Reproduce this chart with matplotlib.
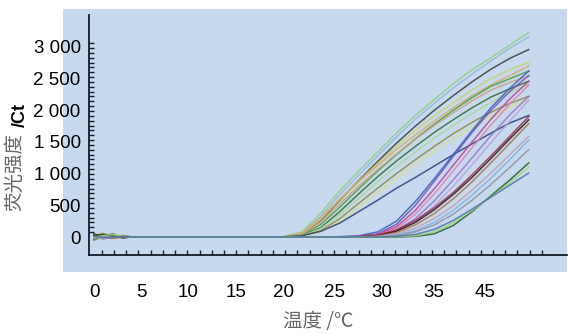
import numpy as np
import matplotlib
matplotlib.use("Agg")
import matplotlib.pyplot as plt
from matplotlib.patches import Rectangle

# ---------------- data ----------------
x = [0, 1, 2, 3, 4, 18, 20, 22, 24, 26, 28, 30, 32, 34, 36, 38, 40, 42, 44, 46]

# early-amplifying group (wiggle at start, flat baseline, then rise)
early_curves = [
    [20, -30, 40, 10, 0, 0, 5, 80, 380, 730, 1040, 1340, 1640, 1920, 2170, 2420, 2640, 2830, 3030, 3230],
    [-40, 20, -10, 30, 0, 0, 3, 60, 330, 670, 980, 1280, 1580, 1860, 2110, 2350, 2570, 2780, 2980, 3160],
    [50, 0, 30, -10, 0, 0, 0, 40, 260, 580, 890, 1190, 1480, 1750, 2000, 2230, 2450, 2650, 2820, 2960],
    [-20, 40, 20, 0, 0, 0, 0, 50, 280, 590, 880, 1160, 1430, 1680, 1910, 2120, 2320, 2500, 2640, 2760],
    [30, 60, -20, 20, 0, 0, 0, 60, 300, 600, 870, 1130, 1380, 1610, 1830, 2040, 2230, 2400, 2550, 2700],
    [-50, 10, 40, 10, 0, 0, 0, 30, 200, 470, 760, 1040, 1300, 1550, 1780, 2000, 2200, 2380, 2500, 2620],
    [10, -40, 30, 20, 0, 0, 0, 40, 240, 520, 800, 1060, 1310, 1540, 1760, 1960, 2150, 2320, 2440, 2540],
    [40, 20, 50, -10, 0, 0, 0, 20, 150, 400, 680, 950, 1200, 1430, 1650, 1850, 2040, 2210, 2340, 2460],
    [-30, -10, 20, 30, 0, 0, 0, 20, 130, 350, 610, 870, 1110, 1340, 1560, 1760, 1950, 2120, 2280, 2410],
    [20, 50, 10, 0, 0, 0, 0, 15, 100, 290, 530, 770, 1000, 1220, 1430, 1630, 1810, 1970, 2110, 2220],
    [-10, 30, -30, 20, 0, 0, 0, 10, 80, 240, 460, 690, 920, 1140, 1350, 1550, 1730, 1900, 2050, 2170],
    [0, 20, 10, 10, 0, 0, 0, 20, 90, 220, 400, 580, 770, 940, 1120, 1300, 1470, 1640, 1800, 1920],
]
early_colors = ["#8fd17a", "#8fb8d8", "#3a3a3a", "#c8d46a", "#d9a86a", "#4a9a3a",
                "#c9a27a", "#2f6b2a", "#a8d890", "#8a8a3a", "#d8e08a", "#2b3f7a"]

# late-amplifying group
late_curves = [
    [10, -20, 30, 0, 0, 0, 0, 0, 0, 0, 10, 50, 200, 500, 880, 1270, 1650, 2000, 2300, 2550],
    [-20, 30, 10, 20, 0, 0, 0, 0, 0, 5, 20, 80, 250, 560, 920, 1300, 1680, 2040, 2350, 2620],
    [30, -10, -20, 10, 0, 0, 0, 0, 0, 0, 10, 40, 160, 420, 760, 1130, 1500, 1860, 2180, 2460],
    [-10, 10, 40, 0, 0, 0, 0, 0, 0, 0, 5, 30, 130, 360, 680, 1040, 1410, 1770, 2100, 2400],
    [20, 40, 0, -10, 0, 0, 0, 0, 0, 0, 0, 20, 100, 290, 570, 900, 1250, 1600, 1930, 2220],
    [0, -30, 20, 10, 0, 0, 0, 0, 0, 0, 0, 15, 80, 240, 490, 800, 1140, 1490, 1830, 2160],
    [40, 10, -10, 20, 0, 0, 0, 0, 0, 0, 5, 30, 110, 260, 460, 700, 980, 1280, 1590, 1900],
    [-30, 20, 30, -10, 0, 0, 0, 0, 0, 0, 0, 20, 90, 230, 430, 670, 940, 1240, 1550, 1850],
    [10, 30, -20, 0, 0, 0, 0, 0, 0, 0, 0, 15, 70, 190, 370, 600, 870, 1170, 1480, 1790],
    [-20, 0, 20, 20, 0, 0, 0, 0, 0, 0, 0, 10, 50, 140, 290, 490, 740, 1010, 1300, 1590],
    [20, -20, 10, 0, 0, 0, 0, 0, 0, 0, 0, 5, 30, 100, 230, 420, 660, 930, 1220, 1530],
    [0, 10, -10, 10, 0, 0, 0, 0, 0, 0, 0, 0, 20, 80, 190, 360, 580, 830, 1100, 1380],
    [30, 40, 20, 0, 0, 0, 0, 0, 0, 0, 0, 0, 0, 10, 50, 180, 400, 650, 900, 1170],
    [-10, 20, 40, 10, 0, 0, 0, 0, 0, 0, 0, 0, 5, 20, 80, 220, 420, 630, 860, 1100],
    [10, -10, 0, 10, 0, 0, 0, 0, 0, 0, 0, 0, 10, 40, 120, 260, 440, 630, 820, 1010],
]
late_colors = ["#7a4fb0", "#3a5fc0", "#c0409a", "#e080b0", "#9a70d0", "#b8a0e0",
               "#b02040", "#202020", "#b07040", "#c0a0b0", "#80b0e0", "#9090a0",
               "#1f5a2a", "#a0d870", "#4a70b0"]

xtick_pos = [0, 5, 10, 15, 20, 25.5, 30.5, 36, 41.4]
xtick_labels = ["0", "5", "10", "15", "20", "25", "30", "35", "45"]
ytick_pos = [0, 500, 1000, 1500, 2000, 2500, 3000]
ytick_labels = ["0", "500", "1 000", "1 500", "2 000", "2 500", "3 000"]

# ---------------- figure ----------------
W, H = 568, 333
fig = plt.figure(figsize=(W / 100, H / 100), dpi=100)
fig.patch.set_facecolor("white")

bg = Rectangle((63 / W, (H - 272) / H), (567 - 63) / W, (272 - 9) / H,
               transform=fig.transFigure, facecolor="#c6d9ef", edgecolor="none", zorder=-10)
fig.patches.append(bg)

ax = fig.add_axes([89 / W, (H - 255) / H, (567 - 89) / W, (255 - 15) / H])
ax.set_facecolor("none")
ax.set_zorder(1)

for ys, c in zip(early_curves, early_colors):
    ax.plot(x, ys, color=c, lw=1.1, alpha=0.85, solid_joinstyle="round")
for ys, c in zip(late_curves, late_colors):
    ax.plot(x, ys, color=c, lw=1.1, alpha=0.85, solid_joinstyle="round")

ax.set_xlim(-0.53, 50.05)
ax.set_ylim(-284, 3505)

spine_c = "#141a2c"
for s in ["top", "right"]:
    ax.spines[s].set_visible(False)
for s in ["left", "bottom"]:
    ax.spines[s].set_color(spine_c)
    ax.spines[s].set_linewidth(1.3)

ax.set_xticks(xtick_pos)
ax.set_xticklabels(xtick_labels)
ax.set_yticks(ytick_pos)
ax.set_yticklabels(ytick_labels)
ax.set_xticks(np.arange(0.815, 47.6, 1.294), minor=True)
ax.set_yticks(np.linspace(0, 3060, 41), minor=True)

ax.tick_params(axis="both", which="major", length=0, labelsize=13.5, colors="black")
ax.tick_params(axis="x", which="major", pad=21)
ax.tick_params(axis="y", which="major", pad=6)
ax.tick_params(axis="both", which="minor", direction="in", length=3.6, width=1.0, color=spine_c)
for lab in ax.get_xticklabels() + ax.get_yticklabels():
    lab.set_fontfamily("Liberation Sans")

cjk = ["Noto Sans CJK SC", "DejaVu Sans"]
fig.text(15 / W, 1 - 172 / H, "荧光强度", rotation=90, ha="center", va="center",
         fontsize=14, color="#666666", family=cjk, fontweight="light")
fig.text(20 / W, 1 - 115 / H, "/Ct", rotation=90, ha="center", va="center",
         fontsize=13, color="black", family="Liberation Sans", fontweight="bold")
fig.text(318 / W, 1 - 322 / H, "温度 /℃", ha="center", va="center",
         fontsize=14, color="#666666", family=cjk, fontweight="light")

fig.savefig("out.png", dpi=100)
